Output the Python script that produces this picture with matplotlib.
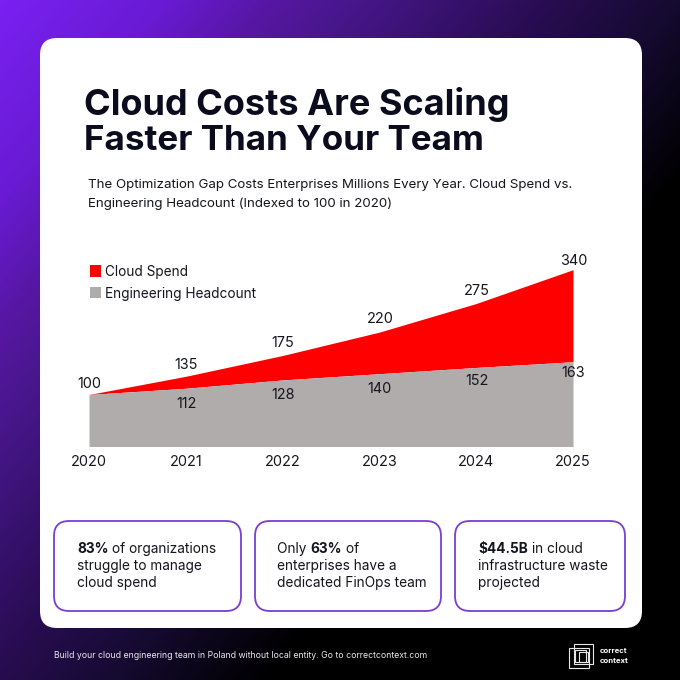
import numpy as np
import matplotlib
matplotlib.use('Agg')
import matplotlib.pyplot as plt
from matplotlib.patches import FancyBboxPatch, Rectangle
from matplotlib.colors import LinearSegmentedColormap

plt.rcParams['font.family'] = ['Inter', 'DejaVu Sans']

years = [2020, 2021, 2022, 2023, 2024, 2025]
cloud = [100, 135, 175, 220, 275, 340]
heads = [100, 112, 128, 140, 152, 163]
# label offsets from the point, in pixels (+ is down)
cloud_off = [-10.5, -11.3, -12.5, -13.1, -12.5, -8.7]
heads_off = [None, 15.7, 15.1, 15.3, 13.5, 11.3]

title = ['Cloud Costs Are Scaling', 'Faster Than Your Team']
subtitle = ['The Optimization Gap Costs Enterprises Millions Every Year. Cloud Spend vs.',
            'Engineering Headcount (Indexed to 100 in 2020)']
footer = 'Build your cloud engineering team in Poland without local entity. Go to correctcontext.com'

W = 680
fig = plt.figure(figsize=(6.8, 6.8), dpi=100)

# background gradient
bg = fig.add_axes([0, 0, 1, 1])
yy, xx = np.mgrid[0:1:340j, 0:1:340j]
t = np.clip(0.82 * xx + 0.68 * yy, 0, 1)
cmap = LinearSegmentedColormap.from_list('bg', [(0, '#7a20f2'), (0.2, '#681bd2'), (0.34, '#55169f'), (0.41, '#4a1790'),
                                                (0.65, '#2a0d55'), (0.82, '#150a30'), (1, '#000000')])
bg.imshow(t, cmap=cmap, extent=[0, W, W, 0], aspect='auto', vmin=0, vmax=1)
bg.set_xlim(0, W)
bg.set_ylim(W, 0)
bg.axis('off')


def card(x0, y0, x1, y1, r, **kw):
    p = FancyBboxPatch((x0 + r, y0 + r), x1 - x0 - 2 * r, y1 - y0 - 2 * r,
                       boxstyle='round,pad=%f,rounding_size=%f' % (r, r), **kw)
    bg.add_patch(p)


card(40, 38, 642, 628, 17, fc='white', ec='none')

bg.text(84, 104.5, title[0], fontsize=26, fontweight='bold', color='#0b0b1e', va='center')
bg.text(84, 141.5, title[1], fontsize=25.2, fontweight='bold', color='#0b0b1e', va='center')
bg.text(88, 185, subtitle[0], fontsize=9.6, color='#15151f', va='center')
bg.text(88, 204, subtitle[1], fontsize=9.6, color='#15151f', va='center')

# legend
bg.add_patch(Rectangle((89.5, 265), 11.5, 11.5, fc='#ff0000', ec='none'))
bg.add_patch(Rectangle((89.5, 286.5), 11.5, 11.5, fc='#b0acac', ec='none'))
bg.text(105, 272, 'Cloud Spend', fontsize=9.8, color='#15151f', va='center')
bg.text(105, 294, 'Engineering Headcount', fontsize=9.8, color='#15151f', va='center')

# chart
ax = fig.add_axes([89 / W, 1 - 446.5 / W, (573 - 89) / W, (446.5 - 250) / W])
ax.patch.set_alpha(0)
ax.fill_between(years, heads, cloud, color='#ff0000', lw=0)
ax.fill_between(years, 0, heads, color='#b0acac', lw=0)
ax.set_xlim(2020, 2025)
ax.set_ylim(0, 196.5 / 0.52)
ax.set_yticks([])
ax.set_xticks(years)
ax.tick_params(axis='x', length=2, width=0.6, color='#eeeeee', pad=4, labelsize=10.4, labelcolor='#15151f')
for s in ax.spines.values():
    s.set_visible(False)
for y, c, h, oc, oh in zip(years, cloud, heads, cloud_off, heads_off):
    ax.annotate(str(c), (y, c), xytext=(0.5, -oc), textcoords='offset pixels', ha='center', va='center',
                fontsize=10.4, color='#15151f', annotation_clip=False)
    if oh is not None:
        ax.annotate(str(h), (y, h), xytext=(0.5, -oh), textcoords='offset pixels', ha='center', va='center',
                    fontsize=10.4, color='#15151f', annotation_clip=False)

# stat boxes
boxes = [
    (54, 241, 77, [[('83%', True), (' of organizations', False)], [('struggle to manage', False)], [('cloud spend', False)]]),
    (255, 441, 277, [[('Only ', False), ('63%', True), (' of', False)], [('enterprises have a', False)], [('dedicated FinOps team', False)]]),
    (455, 625, 478, [[('$44.5B', True), (' in cloud', False)], [('infrastructure waste', False)], [('projected', False)]]),
]
fig.canvas.draw()
rend = fig.canvas.get_renderer()
for x0, x1, tx, lines in boxes:
    card(x0, 521, x1, 611, 15, fc='white', ec='#7a3fd0', lw=1.3)
    for i, line in enumerate(lines):
        x = tx
        for part, b in line:
            tt = bg.text(x, 549 + i * 17, part.replace(' ', '\u00a0'), fontsize=9.85, color='#15151f', va='center',
                         fontweight='bold' if b else 'normal')
            x += tt.get_window_extent(rend).width

# footer
bg.text(54, 655, footer, fontsize=6.27, color='#e8e8ee', va='center')

# logo
for (x, y, w, h) in [(569, 648, 20, 20), (574, 644, 19, 20), (579, 652, 9, 10), (575, 650, 11, 12)]:
    bg.add_patch(Rectangle((x, y), w, h, fc='none', ec='#e8e8e8', lw=0.8))
bg.text(600, 651, 'correct', fontsize=5.6, fontweight='bold', color='white', va='center')
bg.text(600, 661, 'context', fontsize=5.6, fontweight='bold', color='white', va='center')

fig.savefig('out.png', dpi=100)
